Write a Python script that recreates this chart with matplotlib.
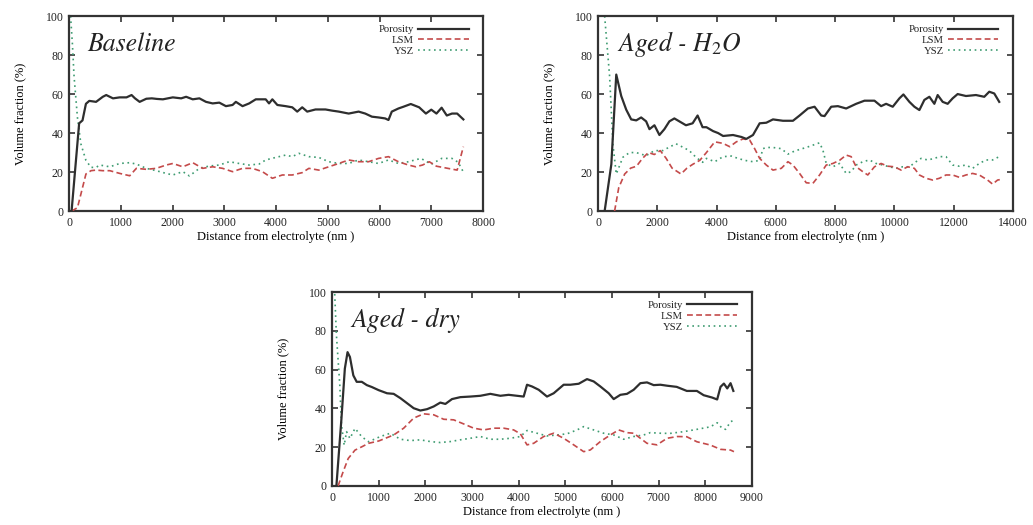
import matplotlib
matplotlib.use("Agg")
import matplotlib.pyplot as plt
from matplotlib.ticker import MultipleLocator

# ---- Baseline ----
base_por_x = [50, 196, 261, 327, 392, 523, 653, 719, 850, 980, 1111, 1209, 1275, 1365, 1494,
              1600, 1700, 1814, 2006, 2167, 2263, 2391, 2519, 2647, 2776, 2904, 3032, 3160, 3224, 3353,
              3481, 3609, 3801, 3865, 3929, 4026, 4186, 4314, 4410, 4506, 4603, 4763, 4955, 5083, 5212,
              5404, 5596, 5724, 5853, 5981, 6109, 6173, 6237, 6365, 6462, 6604, 6766, 6896, 7000, 7100,
              7200, 7300, 7400, 7500, 7620]
base_por = [0, 45, 46.5, 55, 56.5, 56, 58.6, 59.5, 57.8, 58.3, 58.3, 59.5, 57.8, 56, 57.6,
            57.8, 57.5, 57.3, 58.3, 57.8, 58.6, 57.3, 57.8, 56, 55.2, 55.6, 53.8, 54.4, 56, 53.8,
            55.2, 57.3, 57.3, 55.2, 57.3, 54.4, 53.8, 53.2, 51, 53.2, 51, 52.1, 52.1, 51.5, 51,
            50, 51, 50, 48.4, 48, 47.5, 46.7, 51, 52.6, 53.5, 54.9, 53.2, 50, 52, 50,
            53, 49, 50, 50, 47]
base_lsm_x = [50, 163, 229, 327, 425, 523, 653, 788, 981, 1173, 1301, 1494, 1686, 1878, 2006,
              2199, 2391, 2583, 2776, 2968, 3160, 3353, 3545, 3737, 3929, 4122, 4314, 4506, 4635, 4827,
              5019, 5212, 5404, 5596, 5788, 5981, 6173, 6365, 6558, 6700, 6831, 6961, 7100, 7300, 7500,
              7620]
base_lsm = [0, 1.7, 8.6, 19, 20.7, 21, 20.7, 20.7, 19.3, 18.1, 21.9, 21.4, 21.9, 23.6, 24.4,
            22.7, 24.8, 21.9, 22.7, 21.9, 20.2, 21.9, 21.9, 20.2, 16.8, 18.5, 18.5, 19.7, 21.9, 21,
            22.7, 24.4, 26.2, 25.3, 25.3, 27, 27.9, 25.3, 23.6, 22.7, 23.6, 25.3, 23, 22, 21,
            33]
base_ysz_x = [30, 65, 98, 163, 229, 327, 425, 523, 596, 788, 981, 1173, 1301, 1494, 1686,
              1878, 2006, 2199, 2327, 2519, 2712, 2904, 3096, 3288, 3481, 3673, 3801, 3994, 4186, 4314,
              4442, 4635, 4827, 5019, 5212, 5404, 5596, 5788, 5981, 6173, 6365, 6558, 6800, 7000, 7200,
              7400, 7520, 7620]
base_ysz = [100, 86, 69, 48, 34.5, 26, 22.4, 22.4, 23.6, 22.7, 24.4, 24.8, 24.1, 21.9, 20.7,
            19.3, 18.5, 20.2, 18, 21.9, 23.1, 23.6, 25.3, 24.4, 23.6, 24.1, 26.2, 27.5, 28.7, 27.9,
            29.6, 27.9, 27.5, 25.3, 24.4, 24.4, 26.2, 25.3, 24.4, 26.2, 24.4, 25.3, 27, 24, 27,
            27, 25, 20]

# ---- Aged - H2O ----
h2o_por_x = [224, 450, 616, 784, 952, 1120, 1290, 1456, 1624, 1736, 1904, 2072, 2240, 2408, 2576,
             2744, 2968, 3192, 3360, 3528, 3658, 3883, 4051, 4220, 4556, 4836, 5005, 5229, 5454, 5678,
             5903, 6240, 6577, 6801, 7082, 7306, 7531, 7643, 7868, 8093, 8373, 8710, 8990, 9327, 9551,
             9720, 9944, 10169, 10304, 10506, 10674, 10843, 11011, 11180, 11348, 11460, 11629, 11797,
             11965, 12134, 12415, 12751, 13032, 13200, 13369, 13537]
h2o_por = [0, 24, 70, 59, 52, 47, 46.5, 48, 46, 42, 44, 39, 42, 46, 47.5,
           46, 44, 45, 49, 43, 43, 41, 40, 38.5, 39, 38, 37, 39, 45, 45.3,
           47, 46.3, 46.3, 49, 52.6, 53.5, 49, 48.7, 53.5, 53.8, 52.6, 55, 56.6, 56.6, 53.8,
           55, 53.5, 57.8, 59.8, 56, 53.5, 51.8, 57, 58.6, 55, 59.5, 56, 55,
           57.8, 60, 59, 59.5, 58.6, 61.2, 60.3, 56]
h2o_lsm_x = [560, 700, 900, 1100, 1300, 1500, 1700, 1900, 2100, 2300, 2500, 2700, 2800, 3000, 3200,
             3434, 3658, 3939, 4220, 4444, 4668, 4893, 5117, 5285, 5454, 5678, 5903, 6184, 6408, 6577,
             6801, 7026, 7250, 7475, 7700, 7924, 8149, 8373, 8541, 8710, 8934, 9102, 9327, 9551, 9776,
             10000, 10225, 10450, 10674, 10843, 11067, 11292, 11516, 11741, 11965, 12190, 12415, 12639,
             12864, 13144, 13313, 13481, 13593]
h2o_lsm = [0, 12, 19, 22, 23, 27, 30, 29, 31, 27, 22, 20, 19, 22, 24,
           26, 30, 35.5, 34.7, 33, 35.5, 37, 36.4, 32, 27, 23.6, 21, 21.9, 25.3, 23.6,
           19.3, 14.5, 14.2, 18.5, 23.6, 24.4, 26, 28.7, 27.9, 22.7, 20.2, 18.5, 22.7, 24.4, 23,
           22.7, 21, 22.7, 21.9, 18.5, 16.8, 15.9, 16.8, 18.5, 18.5, 17.3, 18.5, 19.3,
           18.5, 15.9, 13.8, 15.9, 16.2]
h2o_ysz_x = [224, 392, 504, 616, 840, 1064, 1288, 1624, 1904, 2184, 2408, 2632, 2856, 3080, 3304,
             3528, 3658, 3939, 4220, 4500, 4724, 4949, 5229, 5454, 5566, 5678, 5903, 6184, 6408, 6577,
             6801, 7026, 7250, 7475, 7587, 7700, 7924, 8149, 8373, 8541, 8710, 8934, 9158, 9383, 9607,
             9832, 10056, 10281, 10506, 10730, 10899, 11123, 11348, 11516, 11741, 11965, 12190, 12415,
             12639, 12864, 13088, 13313, 13537, 13593]
h2o_ysz = [100, 69, 34, 19, 27.6, 30, 30, 28.4, 31, 31, 32.8, 34.5, 32.8, 31, 27.6,
           25, 27, 25.3, 27.9, 28.2, 27, 26, 25.3, 26, 32, 32.6, 32.6, 32, 29.2, 30.4,
           31.6, 32.6, 33.8, 35, 31.3, 24.4, 22.7, 24.4, 19.3, 20.2, 23.6, 25.3, 26.2, 24.4, 23.6,
           22.7, 21.9, 22.7, 22.7, 25.3, 27, 26.2, 27, 27.9, 27.9, 23.6, 23, 23.6,
           21.9, 24.4, 26.2, 26.2, 27.9, 28.7]

# ---- Aged - dry ----
dry_por_x = [94, 203, 275, 333, 384, 457, 529, 638, 746, 855, 1000, 1179, 1321, 1464, 1607,
             1750, 1893, 2036, 2179, 2321, 2429, 2571, 2750, 2964, 3179, 3393, 3607, 3786, 3964, 4107,
             4179, 4286, 4429, 4607, 4750, 4964, 5107, 5286, 5464, 5607, 5750, 5929, 6036, 6179, 6321,
             6464, 6607, 6750, 6893, 7036, 7179, 7386, 7603, 7819, 7964, 8144, 8253, 8325, 8397, 8469,
             8540, 8600]
dry_por = [0, 35, 60.5, 69, 66.5, 57, 53.7, 53.7, 52, 51, 49.4, 47.8, 47.5, 45.3, 42.7,
           40.1, 38.9, 39.6, 41, 43, 42.3, 44.8, 45.8, 46.1, 46.5, 47.5, 46.5, 47, 46.5, 46.1,
           52.2, 51.3, 49.6, 46.1, 47.8, 52.2, 52.2, 52.7, 55.1, 53.9, 51.3, 47.8, 44.8, 47, 47.5,
           49.6, 53, 53.4, 52, 52.2, 51.7, 51.1, 49, 49, 46.8, 45.6, 44.6, 51.1, 52.8, 50.3,
           53, 49]
dry_lsm_x = [130, 239, 348, 493, 638, 783, 1000, 1321, 1536, 1750, 1964, 2179, 2393, 2607, 2821,
             3036, 3250, 3464, 3679, 3893, 4036, 4179, 4321, 4536, 4750, 4964, 5179, 5393, 5536, 5750,
             5964, 6143, 6321, 6464, 6607, 6750, 6964, 7179, 7400, 7600, 7819, 8108, 8325, 8541, 8613]
dry_lsm = [0, 7.4, 14.2, 18.5, 20.2, 22, 23.2, 26.3, 29.8, 35, 37.2, 36.7, 34.4, 34.1, 32,
           29.8, 28.9, 29.8, 29.8, 28.9, 26.9, 21.2, 22, 25.5, 27.2, 24.6, 21.2, 17.7, 18.6, 22.9,
           26.3, 28.9, 27.5, 27.2, 24.6, 22, 21.2, 24.6, 25.5, 25.4, 22.8, 21.1, 18.9, 18.5, 17.7]
dry_ysz_x = [58, 94, 167, 203, 261, 312, 384, 493, 638, 783, 1036, 1250, 1464, 1679, 1893,
             2107, 2321, 2536, 2750, 2964, 3179, 3393, 3607, 3821, 4036, 4179, 4393, 4607, 4821, 5036,
             5250, 5393, 5607, 5821, 6036, 6250, 6464, 6679, 6821, 7036, 7242, 7531, 7819, 8108, 8253,
             8361, 8433, 8541, 8613]
dry_ysz = [99, 78, 52, 31.4, 21, 28, 24.5, 29.7, 25.4, 22.8, 25.5, 27.2, 24.1, 23.4, 23.8,
           22.9, 22.4, 22.9, 23.8, 24.6, 25.5, 24.1, 24.1, 24.6, 25.5, 28.6, 27.2, 25.8, 26.3, 26.9,
           28.9, 30.6, 28.9, 27.2, 26.3, 24.1, 25.5, 26.3, 27.5, 27.2, 27.1, 28, 29.2, 30.5, 32.6,
           29.7, 29.2, 33.1, 34]

POR_COLOR = "#2e2e2e"
LSM_COLOR = "#c44a4a"
YSZ_COLOR = "#3f9c72"


def draw_panel(ax, title, xmax, xstep, por, lsm, ysz):
    ax.plot(*ysz, color=YSZ_COLOR, lw=1.2, ls=(0, (1, 2.2)), label="YSZ", zorder=2)
    ax.plot(*lsm, color=LSM_COLOR, lw=1.2, ls=(0, (3.5, 2)), label="LSM", zorder=3)
    ax.plot(*por, color=POR_COLOR, lw=1.6, ls="-", label="Porosity", zorder=4)

    ax.set_xlim(0, xmax)
    ax.set_ylim(0, 100)
    ax.xaxis.set_major_locator(MultipleLocator(xstep))
    ax.yaxis.set_major_locator(MultipleLocator(20))
    ax.tick_params(direction="in", top=True, right=True, length=4, width=1.2,
                   color="#333333", labelsize=8.5, pad=4)
    for sp in ax.spines.values():
        sp.set_linewidth(1.6)
        sp.set_color("#333333")

    ax.set_xlabel("Distance from electrolyte (nm )", fontsize=9, labelpad=1.5)
    ax.set_ylabel("Volume fraction (%)", fontsize=9, labelpad=14)

    ax.text(0.045, 0.82, title, transform=ax.transAxes, fontsize=18.5,
            family="STIXGeneral", style="italic", color="#222222")

    # legend in the gnuplot way: text right-aligned, sample on the right
    h, l = ax.get_legend_handles_labels()
    ax.legend(h[::-1], l[::-1], loc="upper right", bbox_to_anchor=(0.965, 0.955),
              frameon=False, markerfirst=False, fontsize=7.7, handlelength=4.7,
              handletextpad=0.4, labelspacing=0.12, borderpad=0, borderaxespad=0)


def main():
    plt.rcParams["font.family"] = ["Liberation Serif", "DejaVu Serif"]
    plt.rcParams["mathtext.fontset"] = "stix"
    plt.rcParams["text.color"] = "#222222"
    plt.rcParams["xtick.color"] = "#222222"
    plt.rcParams["ytick.color"] = "#222222"

    fig = plt.figure(figsize=(10.33, 5.25), dpi=100)
    ax1 = fig.add_axes([0.0668, 0.598, 0.4008, 0.3714])
    ax2 = fig.add_axes([0.5789, 0.598, 0.4017, 0.3714])
    ax3 = fig.add_axes([0.3214, 0.0743, 0.4066, 0.3695])

    draw_panel(ax1, "Baseline", 8000, 1000,
               (base_por_x, base_por), (base_lsm_x, base_lsm), (base_ysz_x, base_ysz))
    draw_panel(ax2, r"Aged - H$_\mathit{2}$O", 14000, 2000,
               (h2o_por_x, h2o_por), (h2o_lsm_x, h2o_lsm), (h2o_ysz_x, h2o_ysz))
    draw_panel(ax3, "Aged - dry", 9000, 1000,
               (dry_por_x, dry_por), (dry_lsm_x, dry_lsm), (dry_ysz_x, dry_ysz))

    fig.savefig("out.png", dpi=100)


if __name__ == "__main__":
    main()
